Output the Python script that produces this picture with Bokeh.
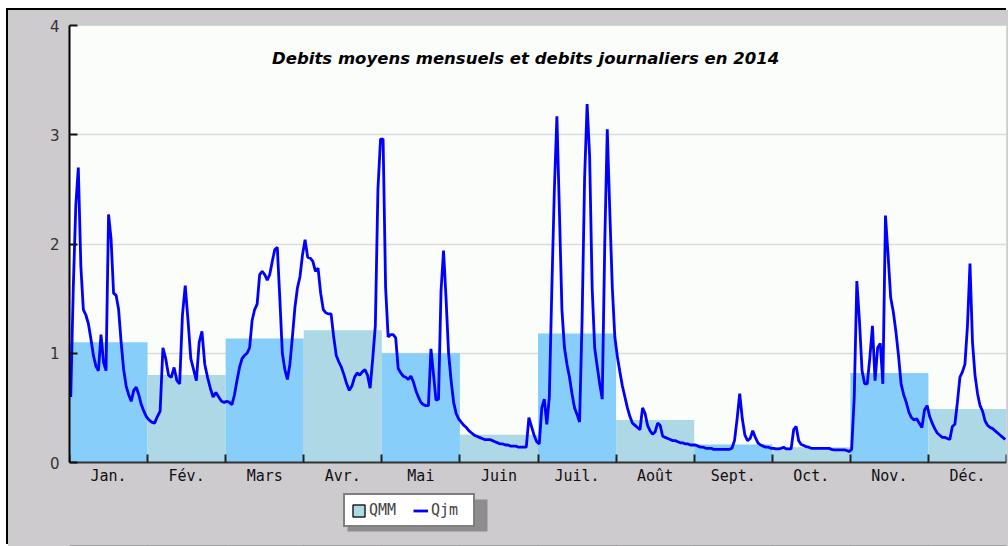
from bokeh.plotting import figure
from bokeh.models import (FixedTicker, ColumnDataSource, Legend, LegendItem, Label, Range1d,
                          Spacer, BoxAnnotation)
from bokeh.layouts import column, row
from bokeh.embed import file_html
from bokeh.resources import INLINE

months = ["Jan.", "Fév.", "Mars", "Avr.", "Mai", "Juin", "Juil.", "Août",
          "Sept.", "Oct.", "Nov.", "Déc."]

# Debits moyens mensuels (QMM)
qmm = [1.10, 0.80, 1.135, 1.21, 1.00, 0.255, 1.18, 0.39, 0.165, 0.14, 0.82, 0.49]

# Debits journaliers (Qjm), one list per month
jan = [0.6, 1.6, 2.35, 2.7, 1.8, 1.4, 1.35, 1.27, 1.13, 0.98, 0.88, 0.84, 1.17, 0.92, 0.84,
       2.27, 2.05, 1.55, 1.53, 1.4, 1.1, 0.85, 0.7, 0.62, 0.56, 0.66, 0.69, 0.62, 0.53, 0.47, 0.42]
feb = [0.39, 0.37, 0.36, 0.42, 0.47, 1.05, 0.95, 0.8, 0.78, 0.87, 0.75, 0.72, 1.35, 1.62,
       1.3, 0.95, 0.85, 0.75, 1.1, 1.2, 0.9, 0.78, 0.68, 0.6, 0.64, 0.6, 0.56, 0.55]
mar = [0.56, 0.55, 0.53, 0.62, 0.75, 0.87, 0.95, 0.98, 1.0, 1.05, 1.3, 1.4, 1.45, 1.72, 1.75,
       1.72, 1.67, 1.72, 1.84, 1.95, 1.97, 1.5, 1.0, 0.85, 0.76, 0.9, 1.15, 1.42, 1.6, 1.7, 1.9]
apr = [2.04, 1.88, 1.87, 1.84, 1.75, 1.78, 1.55, 1.4, 1.37, 1.36, 1.36, 1.15, 0.98, 0.92, 0.87,
       0.8, 0.72, 0.66, 0.7, 0.78, 0.82, 0.8, 0.83, 0.85, 0.8, 0.68, 0.95, 1.25, 2.5, 2.96]
may = [2.96, 1.6, 1.15, 1.17, 1.17, 1.14, 0.86, 0.82, 0.79, 0.78, 0.76, 0.79, 0.74, 0.66, 0.6,
       0.55, 0.53, 0.52, 0.52, 1.04, 0.81, 0.57, 0.58, 1.57, 1.94, 1.5, 1.0, 0.75, 0.55, 0.45, 0.4]
jun = [0.37, 0.34, 0.32, 0.29, 0.27, 0.25, 0.24, 0.23, 0.22, 0.21, 0.21, 0.21, 0.2, 0.19, 0.18,
       0.17, 0.17, 0.16, 0.16, 0.15, 0.15, 0.15, 0.14, 0.14, 0.14, 0.14, 0.41, 0.33, 0.25, 0.19]
jul = [0.17, 0.5, 0.58, 0.35, 0.6, 1.6, 2.5, 3.17, 2.3, 1.4, 1.05, 0.9, 0.78, 0.63, 0.5, 0.44,
       0.37, 1.3, 2.6, 3.28, 2.8, 1.6, 1.05, 0.88, 0.72, 0.58, 2.0, 3.05, 2.3, 1.6, 1.15]
aug = [0.97, 0.83, 0.7, 0.6, 0.5, 0.42, 0.36, 0.34, 0.32, 0.3, 0.5, 0.45, 0.34, 0.29, 0.26, 0.28,
       0.36, 0.34, 0.24, 0.23, 0.22, 0.21, 0.2, 0.2, 0.19, 0.18, 0.18, 0.17, 0.17, 0.16, 0.16]
sep = [0.16, 0.15, 0.14, 0.14, 0.13, 0.13, 0.13, 0.12, 0.12, 0.12, 0.12, 0.12, 0.12, 0.12, 0.13,
       0.2, 0.4, 0.63, 0.4, 0.25, 0.2, 0.22, 0.29, 0.23, 0.18, 0.16, 0.15, 0.14, 0.14, 0.13]
oct_ = [0.13, 0.125, 0.125, 0.13, 0.14, 0.125, 0.125, 0.125, 0.3, 0.33, 0.2, 0.165, 0.155, 0.145,
        0.14, 0.13, 0.13, 0.13, 0.13, 0.13, 0.13, 0.13, 0.13, 0.12, 0.115, 0.115, 0.115, 0.115,
        0.115, 0.11, 0.10]
nov = [0.12, 0.6, 1.66, 1.3, 0.84, 0.72, 0.72, 0.96, 1.25, 0.75, 1.05, 1.09, 0.72, 2.26, 1.9,
       1.51, 1.38, 1.2, 0.98, 0.72, 0.62, 0.55, 0.46, 0.41, 0.39, 0.4, 0.36, 0.32, 0.48, 0.52]
dec = [0.42, 0.36, 0.31, 0.27, 0.25, 0.23, 0.23, 0.22, 0.21, 0.33, 0.35, 0.55, 0.78, 0.83, 0.9,
       1.25, 1.82, 1.1, 0.8, 0.63, 0.52, 0.47, 0.38, 0.34, 0.32, 0.31, 0.29, 0.27, 0.25, 0.23, 0.21]

daily = [jan, feb, mar, apr, may, jun, jul, aug, sep, oct_, nov, dec]

xs, ys = [], []
for m, vals in enumerate(daily):
    n = len(vals)
    for d, v in enumerate(vals):
        xs.append(m + (d + 0.5) / n)
        ys.append(v)

GRAY = "#cdcbce"
PLOT_BG = "#fbfdfb"
QMM_COLORS = ["#87cefa", "#add8e6"]
QJM_COLOR = "#0000ff"

# layout (pixels)
W, H = 1000, 536
BL, BR, BT = 61, 2, 15
FRAME_W = W - BL - BR
FRAME_H = H - BT
PX_PER_UNIT = 109.25          # 0..4 occupies 437 px
Y_MAX = 4.0
Y_MIN = Y_MAX - FRAME_H / PX_PER_UNIT   # room under the axis for labels and legend


def px_x(px):   # frame-relative pixel -> data x
    return px * 12.0 / FRAME_W


def px_y(px):   # pixels from the frame top -> data y
    return Y_MAX - px / PX_PER_UNIT


p = figure(width=W, height=H, x_range=Range1d(0, 12), y_range=Range1d(Y_MIN, Y_MAX),
           output_backend="svg", toolbar_location=None,
           min_border_left=BL, min_border_right=BR, min_border_top=BT, min_border_bottom=0)
p.background_fill_color = GRAY
p.border_fill_color = GRAY
p.outline_line_color = None
p.styles = {"box-shadow": "-2px -2px 0px 0px #000000", "background-color": GRAY}

# white plotting area above the axis
p.add_layout(BoxAnnotation(bottom=0, fill_color=PLOT_BG, fill_alpha=1,
                           line_color="#d4d4d4", line_width=1.5, level="image"))

bar_colors = [QMM_COLORS[i % 2] for i in range(12)]
src = ColumnDataSource(dict(x=[i + 0.5 for i in range(12)], top=qmm, color=bar_colors))
p.vbar(x="x", top="top", width=1, bottom=0, fill_color="color", line_color=None, source=src)
ln = p.line(xs, ys, line_color=QJM_COLOR, line_width=2.8)

# legend swatch for QMM: same bars on a hidden range (never visible in the frame)
p.extra_y_ranges = {"hidden": Range1d(100, 101)}
leg_bar = p.vbar(x="x", top="top", width=1, bottom=0, source=src, y_range_name="hidden",
                 fill_color=QMM_COLORS[1], line_color="#222222", line_width=1.5)

title = Label(x=px_x(528 - 69), y=px_y(58 - 25),
              text="Debits moyens mensuels  et debits journaliers en 2014",
              text_font="DejaVu Sans", text_font_style="bold italic", text_font_size="16.5px",
              text_align="center", text_baseline="middle", text_color="black")
p.add_layout(title)

# x axis drawn at y = 0 inside the frame
p.xaxis.fixed_location = 0
p.xaxis.ticker = FixedTicker(ticks=[i + 0.5 for i in range(12)], minor_ticks=list(range(13)))
p.xaxis.major_label_overrides = {i + 0.5: months[i] for i in range(12)}
p.xaxis.major_tick_line_color = None
p.xaxis.minor_tick_in = 8
p.xaxis.minor_tick_out = 0
p.xaxis.minor_tick_line_color = "#222222"
p.xaxis.minor_tick_line_width = 2
p.xaxis.axis_line_color = "#333333"
p.xaxis.axis_line_width = 2
p.xaxis.major_label_text_font = "DejaVu Sans Mono"
p.xaxis.major_label_text_font_size = "15px"
p.xaxis.major_label_text_color = "#111111"
p.xaxis.major_label_standoff = -2

p.yaxis.bounds = (0, 4)
p.yaxis.ticker = FixedTicker(ticks=[0, 1, 2, 3, 4])
p.yaxis.major_tick_in = 8
p.yaxis.major_tick_out = 0
p.yaxis.major_tick_line_color = "#111111"
p.yaxis.major_tick_line_width = 2
p.yaxis.minor_tick_line_color = None
p.yaxis.axis_line_color = "black"
p.yaxis.axis_line_width = 2
p.yaxis.major_label_text_font = "DejaVu Sans"
p.yaxis.major_label_text_font_size = "15px"
p.yaxis.major_label_text_color = "#333333"
p.yaxis.major_label_standoff = 10

p.xgrid.grid_line_color = None
p.ygrid.grid_line_color = "#dcdcdc"
p.ygrid.grid_line_width = 1.5

# legend with a drop shadow
LEG_L, LEG_T, LEG_W, LEG_H = 343 - 69, 495 - 25, 140, 32
p.add_layout(BoxAnnotation(left=px_x(LEG_L + 4), right=px_x(LEG_L + LEG_W + 4),
                           top=px_y(LEG_T + 4), bottom=px_y(LEG_T + LEG_H + 4),
                           fill_color="#8e8c8f", fill_alpha=1, line_color=None))
legend = Legend(items=[LegendItem(label="QMM", renderers=[leg_bar]),
                       LegendItem(label="Qjm", renderers=[ln])],
                location=(LEG_L, FRAME_H - LEG_T - LEG_H), orientation="horizontal",
                border_line_color="black", border_line_width=2,
                background_fill_color="white", background_fill_alpha=1,
                label_text_font="DejaVu Sans Mono", label_text_font_size="15px",
                glyph_width=15, glyph_height=15, label_standoff=3, label_width=36,
                label_height=16, spacing=8, padding=6, margin=0)
p.add_layout(legend)

layout = column(Spacer(height=10), row(Spacer(width=8), p))

open("out.html", "w").write(file_html(layout, INLINE))
